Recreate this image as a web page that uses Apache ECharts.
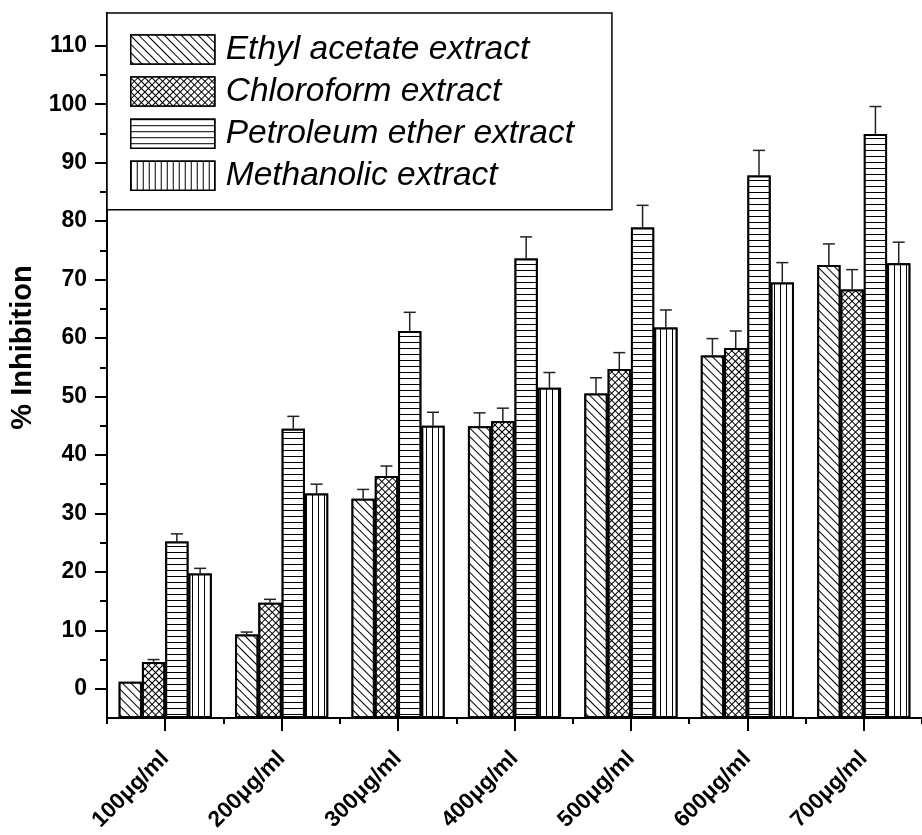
<!DOCTYPE html>
<html>
<head>
<meta charset="utf-8">
<script src="https://cdn.jsdelivr.net/npm/echarts@6/dist/echarts.min.js"></script>
<style>html,body{margin:0;padding:0;background:#fff}#c{width:922px;height:835px}</style>
</head>
<body>
<div id="c"></div>
<script>
const categories = ['100μg/ml','200μg/ml','300μg/ml','400μg/ml','500μg/ml','600μg/ml','700μg/ml'];
const seriesNames = ['Ethyl acetate extract','Chloroform extract','Petroleum ether extract','Methanolic extract'];
const ethyl = [1.2, 9.3, 32.5, 44.9, 50.5, 57.0, 72.5];
const ethylErr = [0, 0.4, 1.6, 2.3, 2.7, 2.9, 3.6];
const chloro = [4.6, 14.7, 36.4, 45.8, 54.7, 58.3, 68.3];
const chloroErr = [0.4, 0.6, 1.7, 2.2, 2.8, 2.9, 3.4];
const petrol = [25.2, 44.5, 61.2, 73.6, 78.9, 87.8, 94.9];
const petrolErr = [1.3, 2.1, 3.2, 3.7, 3.8, 4.3, 4.7];
const metha = [19.7, 33.4, 45.0, 51.5, 61.8, 69.5, 72.8];
const methaErr = [0.9, 1.6, 2.3, 2.6, 3.0, 3.4, 3.6];
const yMajorTicks = [0,10,20,30,40,50,60,70,80,90,100,110];
const yMinorTicks = [5,15,25,35,45,55,65,75,85,95,105];

const FONT = 'Liberation Sans, Arial, Helvetica, sans-serif';
const decals = [
  {symbol:'rect', symbolSize:1, dashArrayX:[1,0], dashArrayY:[1,4.6], rotation:Math.PI/4, color:'#000', backgroundColor:'#fff'},
  {symbol:'rect', symbolSize:1, dashArrayX:[[1,0],[1,3.4]], dashArrayY:[1,0,3.4,0], rotation:Math.PI/4, color:'#000', backgroundColor:'#fff'},
  {symbol:'rect', symbolSize:1, dashArrayX:[1,0], dashArrayY:[1,4.8], color:'#000', backgroundColor:'#fff'},
  {symbol:'rect', symbolSize:1, dashArrayX:[1,4.3], dashArrayY:[1,0], color:'#000', backgroundColor:'#fff'}
];
const values = [ethyl, chloro, petrol, metha];
const errs = [ethylErr, chloroErr, petrolErr, methaErr];

const series = [];
values.forEach((vals, k) => {
  series.push({
    name: seriesNames[k], type:'bar', xAxisIndex:0, yAxisIndex:0,
    data: vals, barGap:'0%', barCategoryGap:'20%',
    itemStyle:{color:'#fff', borderColor:'#000', borderWidth:2, decal: decals[k]},
    emphasis:{disabled:true}
  });
});
values.forEach((vals, k) => {
  series.push({
    type:'custom', xAxisIndex:0, yAxisIndex:0, z:5, silent:true,
    data: vals.map((v,i)=>[i, v, errs[k][i]]),
    encode:{x:0, y:1},
    renderItem: function(params, api){
      const c = api.value(0), v = api.value(1), e = api.value(2);
      if (!e) return null;
      const catW = api.size([1,0])[0];
      const barW = catW*0.8/4;
      const off = (k-1.5)*barW;
      const p0 = api.coord([c, v]);
      const p1 = api.coord([c, v+e]);
      const x = p0[0] + off;
      return {type:'group', children:[
        {type:'line', shape:{x1:x, y1:p0[1], x2:x, y2:p1[1]}, style:{stroke:'#222', lineWidth:1.5}},
        {type:'line', shape:{x1:x-6, y1:p1[1], x2:x+6, y2:p1[1]}, style:{stroke:'#222', lineWidth:1.5}}
      ]};
    }
  });
});

const gridRect = {left:107, top:13, width:823, height:705};
const chart = echarts.init(document.getElementById('c'), null, {renderer:'canvas'});
chart.setOption({
  backgroundColor:'#fff',
  animation:false,
  grid:[Object.assign({}, gridRect), Object.assign({}, gridRect)],
  legend:{
    data: seriesNames, orient:'vertical', left:107, top:13,
    padding:[19.5, 38, 17, 23], itemGap:8.1, itemWidth:84, itemHeight:29,
    icon:'rect', borderColor:'#000', borderWidth:1.5, backgroundColor:'#fff',
    textStyle:{fontFamily:FONT, fontSize:33.5, fontStyle:'italic', color:'#000', padding:[0,0,0,6]},
    itemStyle:{borderColor:'#000', borderWidth:1.5},
    selectedMode:false
  },
  xAxis:[
    {gridIndex:0, type:'category', data:categories,
     axisLine:{show:true, onZero:false, lineStyle:{color:'#000', width:2}},
     axisTick:{show:true, alignWithLabel:false, interval:0, length:6, lineStyle:{color:'#000', width:2}},
     axisLabel:{interval:0, rotate:45, margin:37, fontFamily:FONT, fontSize:22.5, fontWeight:'bold', color:'#000'},
     splitLine:{show:false}},
    {gridIndex:1, type:'category', data:categories,
     axisLine:{show:false, onZero:false},
     axisTick:{show:true, alignWithLabel:true, interval:0, length:13, lineStyle:{color:'#000', width:2}},
     axisLabel:{show:false}, splitLine:{show:false}}
  ],
  yAxis:[
    {gridIndex:0, type:'value', min:-5, max:115.6, startValue:-5,
     name:'% Inhibition', nameLocation:'middle', nameRotate:90, nameGap:68,
     nameTextStyle:{fontFamily:FONT, fontSize:29, fontWeight:'bold', color:'#000', padding:[0,0,0,36]},
     axisLine:{show:true, lineStyle:{color:'#000', width:2}},
     axisTick:{show:true, customValues:yMajorTicks, length:12, lineStyle:{color:'#000', width:2}},
     axisLabel:{customValues:yMajorTicks, margin:20, fontFamily:FONT, fontSize:23, fontWeight:'bold', color:'#000'},
     splitLine:{show:false}},
    {gridIndex:1, type:'value', min:-5, max:115.6,
     axisLine:{show:false},
     axisTick:{show:true, customValues:yMinorTicks, length:7, lineStyle:{color:'#000', width:2}},
     axisLabel:{show:false}, splitLine:{show:false}}
  ],
  series: series
});
</script>
</body>
</html>
